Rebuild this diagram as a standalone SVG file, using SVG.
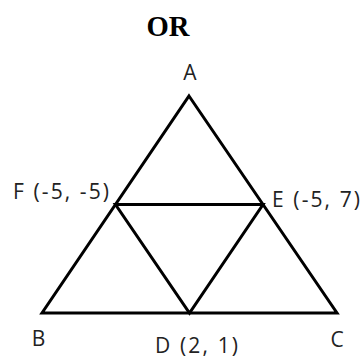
<svg xmlns="http://www.w3.org/2000/svg" width="364" height="359" viewBox="0 0 364 359">
<style>
.lbl{font-family:"Open Sans","Liberation Sans",sans-serif;font-size:21px;fill:#222}
.ttl{font-family:"Liberation Serif",serif;font-weight:bold;font-size:30px;fill:#000}
.edge{stroke:#000;stroke-width:3;fill:none;stroke-linejoin:miter;stroke-linecap:butt}
</style>
<rect width="364" height="359" fill="#fff"/>
<text class="ttl" x="168" y="36" text-anchor="middle" textLength="43" lengthAdjust="spacingAndGlyphs">OR</text>
<g id="connectors">
<path class="edge" d="M189,96 L337,313 L42,313 Z"/>
<path class="edge" d="M115.5,204.5 L263,204.5 L189.5,313 Z"/>
</g>
<g id="node-A"><text class="lbl" x="190" y="80" text-anchor="middle">A</text></g>
<g id="node-B"><text class="lbl" x="38.5" y="346" text-anchor="middle">B</text></g>
<g id="node-C"><text class="lbl" x="337" y="347" text-anchor="middle">C</text></g>
<g id="node-D"><text class="lbl" x="155" y="353" textLength="83" lengthAdjust="spacing">D (2, 1)</text></g>
<g id="node-E"><text class="lbl" x="272" y="207" textLength="88" lengthAdjust="spacing">E (-5, 7)</text></g>
<g id="node-F"><text class="lbl" x="13" y="199" textLength="96" lengthAdjust="spacing">F (-5, -5)</text></g>
</svg>
